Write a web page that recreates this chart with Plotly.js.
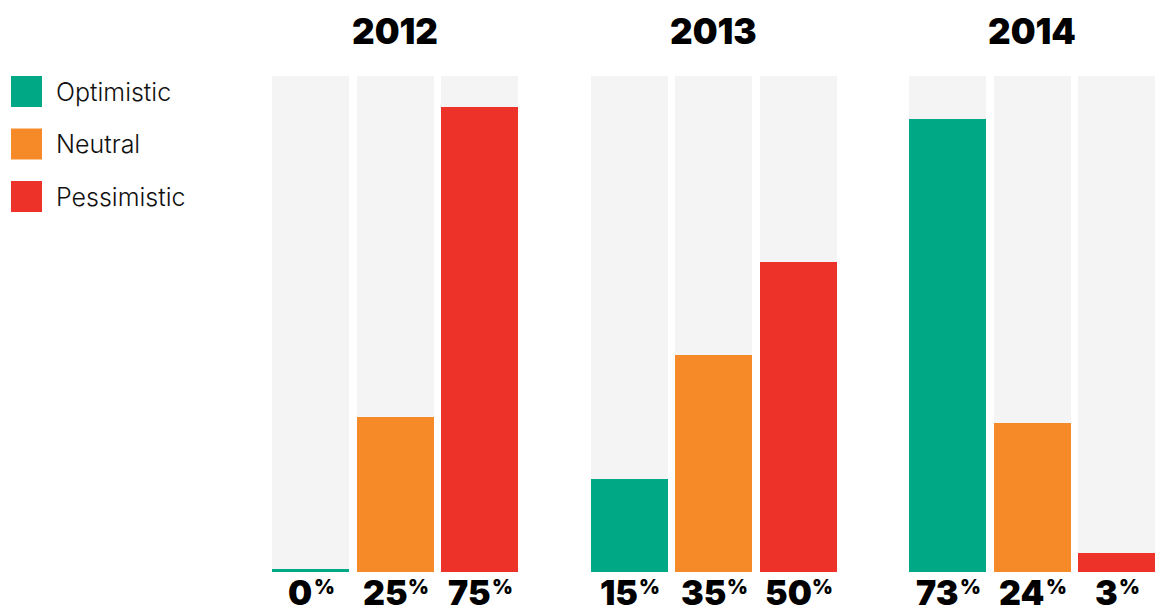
<!DOCTYPE html>
<html>
<head>
<meta charset="utf-8">
<script src="https://cdn.plot.ly/plotly-3.0.1.min.js"></script>
<style>html,body{margin:0;padding:0;background:#fff;}#chart{width:1163px;height:605px;}</style>
</head>
<body>
<div id="chart"></div>
<script>
// ---- data ----
const years = ['2012', '2013', '2014'];
const sentiments = ['Optimistic', 'Neutral', 'Pessimistic'];
const optimistic = [0, 15, 73];
const neutral = [25, 35, 24];
const pessimistic = [75, 50, 3];
const axisMax = 80;

// ---- styling / layout constants ----
const colors = ['#00A886', '#F68A28', '#EC3229'];
const bgColor = '#F4F4F4';
const W = 1163, H = 605;
const M = {l: 272, r: 7, t: 76, b: 33};
const plotW = W - M.l - M.r, plotH = H - M.t - M.b;
const slotPx = 84.5, barPx = 77, groupPx = 318.5, firstCenterPx = 38.5;
const groupPitch = groupPx / slotPx;
const minVisible = 0.5;
const heavyFamily = 'Inter, "DejaVu Sans", sans-serif';
const numSize = 34, pctSize = 20, yearSize = 35;
const numFont = {family: heavyFamily, size: numSize, color: '#000', weight: 900};
const pctFont = {family: heavyFamily, size: pctSize, color: '#000', weight: 900};
const yearFont = {family: heavyFamily, size: yearSize, color: '#000', weight: 900};

const series = [optimistic, neutral, pessimistic];
const xPos = (g, i) => g * groupPitch + i;
const px2paperX = px => (px - M.l) / plotW;
const px2paperY = py => (H - M.b - py) / plotH;

// text width measurement using the DOM (same engine as SVG text)
const meas = document.createElement('span');
meas.style.cssText = 'position:absolute;left:-9999px;top:0;white-space:pre;font-weight:900;font-family:' + heavyFamily;
document.body.appendChild(meas);
function textW(str, size) {
  meas.style.fontSize = size + 'px';
  meas.textContent = str;
  return meas.getBoundingClientRect().width;
}

const traces = [];
sentiments.forEach((s, i) => {
  traces.push({
    type: 'bar', x: years.map((y, g) => xPos(g, i)), y: years.map(() => axisMax),
    width: barPx / slotPx, marker: {color: bgColor}, hoverinfo: 'skip', showlegend: false
  });
});
sentiments.forEach((s, i) => {
  traces.push({
    type: 'bar', name: s, x: years.map((y, g) => xPos(g, i)),
    y: series[i].map(v => Math.max(v, minVisible)),
    customdata: series[i], hovertemplate: s + ': %{customdata}%<extra></extra>',
    width: barPx / slotPx, marker: {color: colors[i]}, showlegend: false
  });
});

const annotations = [];
const shapes = [];
const pctGap = 1;
sentiments.forEach((s, i) => {
  years.forEach((y, g) => {
    const numStr = String(series[i][g]);
    const nw = textW(numStr, numSize), pw = textW('%', pctSize);
    const total = nw + pctGap + pw;
    annotations.push({
      x: xPos(g, i), y: 0, xref: 'x', yref: 'y', xanchor: 'left', yanchor: 'top',
      xshift: -total / 2, yshift: 1, showarrow: false, text: numStr, font: numFont,
      borderpad: 0
    });
    annotations.push({
      x: xPos(g, i), y: 0, xref: 'x', yref: 'y', xanchor: 'left', yanchor: 'top',
      xshift: -total / 2 + nw + pctGap, yshift: -2, showarrow: false, text: '%', font: pctFont,
      borderpad: 0
    });
  });
});
years.forEach((y, g) => {
  annotations.push({
    x: xPos(g, 1), y: 1, xref: 'x', yref: 'paper', xanchor: 'center', yanchor: 'middle',
    yshift: 45, showarrow: false, text: y, font: yearFont
  });
});
const legTop = 76, legPitch = 52.5, legSize = 31, legLeft = 11, legTextLeft = 54;
sentiments.forEach((s, i) => {
  const top = legTop + i * legPitch;
  shapes.push({
    type: 'rect', xref: 'paper', yref: 'paper',
    x0: px2paperX(legLeft), x1: px2paperX(legLeft + legSize),
    y0: px2paperY(top + legSize), y1: px2paperY(top),
    fillcolor: colors[i], line: {width: 0}
  });
  annotations.push({
    x: px2paperX(legTextLeft), y: px2paperY(top + legSize / 2), xref: 'paper', yref: 'paper',
    xanchor: 'left', yanchor: 'middle', showarrow: false, text: s,
    font: {family: 'Inter, "Open Sans", sans-serif', size: 25, color: '#111', weight: 300}
  });
});

const layout = {
  width: W, height: H, margin: M,
  paper_bgcolor: '#fff', plot_bgcolor: '#fff',
  barmode: 'overlay', bargap: 0, showlegend: false,
  xaxis: {range: [-firstCenterPx / slotPx, (plotW - firstCenterPx) / slotPx], visible: false, fixedrange: true},
  yaxis: {range: [0, axisMax], visible: false, fixedrange: true},
  annotations: annotations, shapes: shapes
};
Plotly.newPlot('chart', traces, layout, {displayModeBar: false, staticPlot: true});
</script>
</body>
</html>
